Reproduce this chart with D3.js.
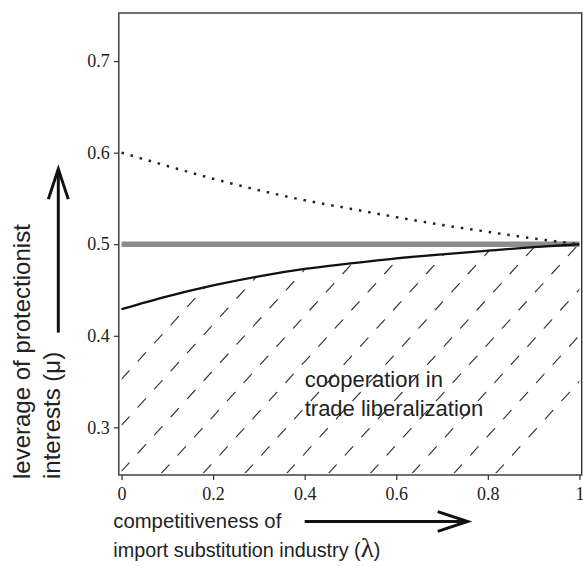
<!DOCTYPE html>
<html>
<head>
<meta charset="utf-8">
<script src="https://cdn.jsdelivr.net/npm/d3@7"></script>
<style>
    body { margin: 0; background: #fff; }
</style>
</head>
<body>
<div id="main-chart"></div>
<script>
// Values
let lambda = [0, 0.1, 0.2, 0.3, 0.4, 0.5, 0.6, 0.7, 0.8, 0.9, 1.0];
let muLower = [0.429, 0.443, 0.455, 0.465, 0.473, 0.479, 0.4845, 0.489, 0.493, 0.4968, 0.5];
let muUpper = [0.600, 0.5855, 0.5715, 0.559, 0.548, 0.5388, 0.5296, 0.5211, 0.5135, 0.5063, 0.5];
let muThreshold = 0.5;
let hatchFloor = 0.25;

let xTicks = [0, 0.2, 0.4, 0.6, 0.8, 1];
let xTickLabels = ['0', '0.2', '0.4', '0.6', '0.8', '1'];
let yTicks = [0.3, 0.4, 0.5, 0.6, 0.7];
let yTickLabels = ['0.3', '0.4', '0.5', '0.6', '0.7'];

let regionLabel = ['cooperation in', 'trade liberalization'];
let xTitle = ['competitiveness of', 'import substitution industry ('];
let yTitle = ['leverage of protectionist', 'interests (\u03bc)'];

// Set dimensions and margins
let margin = {
        top: 13,
        right: 1.3,
        bottom: 91,
        left: 118.8
    },
    width = 583 - margin.left - margin.right,
    height = 566 - margin.top - margin.bottom;

let x = d3.scaleLinear().domain([-0.006, 1.005]).range([0, width]);
let y = d3.scaleLinear().domain([0.248, 0.7525]).range([height, 0]);

let data = lambda.map(function (l, i) {
    return { lambda: l, lower: muLower[i], upper: muUpper[i] };
});

let svg = d3.select('#main-chart')
    .append('svg')
    .attr('width', width + margin.left + margin.right)
    .attr('height', height + margin.top + margin.bottom)
    .append('g')
    .attr('transform', 'translate(' + margin.left + ',' + margin.top + ')');

// Hatched region below the lower curve
let area = d3.area()
    .curve(d3.curveMonotoneX)
    .x(function (d) { return x(d.lambda); })
    .y0(y(hatchFloor))
    .y1(function (d) { return y(d.lower); });

svg.append('clipPath')
    .attr('id', 'hatch-clip')
    .append('path')
    .datum(data)
    .attr('d', area);

let hatchSlope = 1.1, hatchGap = 41.8, hatchFirst = 36.1 - margin.left;
let xLeft = x(0), yFloor = y(hatchFloor);
let hatch = d3.range(0, 12).map(function (k) {
    let bx = hatchFirst + k * hatchGap;
    let sx = bx, sy = yFloor;
    if (bx < xLeft) {
        sx = xLeft;
        sy = yFloor - (xLeft - bx) * hatchSlope;
    }
    return { x1: sx, y1: sy, x2: sx + sy / hatchSlope, y2: 0 };
});

svg.append('g')
    .attr('clip-path', 'url(#hatch-clip)')
    .selectAll('line')
    .data(hatch)
    .enter().append('line')
    .attr('x1', function (d) { return d.x1; })
    .attr('y1', function (d) { return d.y1; })
    .attr('x2', function (d) { return d.x2; })
    .attr('y2', function (d) { return d.y2; })
    .attr('stroke', '#333')
    .attr('stroke-width', 1.15)
    .attr('stroke-linecap', 'round')
    .attr('stroke-dasharray', '11.3 13.2');

// Threshold line at mu = 0.5
svg.append('line')
    .attr('x1', x(0))
    .attr('x2', x(1))
    .attr('y1', y(muThreshold))
    .attr('y2', y(muThreshold))
    .attr('stroke', '#8c8c8c')
    .attr('stroke-width', 5.5);

let line_lower = d3.line()
    .curve(d3.curveMonotoneX)
    .x(function (d) { return x(d.lambda); })
    .y(function (d) { return y(d.lower); });

let line_upper = d3.line()
    .curve(d3.curveMonotoneX)
    .x(function (d) { return x(d.lambda); })
    .y(function (d) { return y(d.upper); });

svg.append('path')
    .datum(data)
    .attr('fill', 'none')
    .attr('stroke', '#111')
    .attr('stroke-width', 2.3)
    .attr('d', line_lower);

svg.append('path')
    .datum(data)
    .attr('fill', 'none')
    .attr('stroke', '#222')
    .attr('stroke-width', 2.5)
    .attr('stroke-dasharray', '2.5 6.9')
    .attr('d', line_upper);

// Frame
svg.append('rect')
    .attr('width', width)
    .attr('height', height)
    .attr('fill', 'none')
    .attr('stroke', '#333')
    .attr('stroke-width', 1.4);

// Axes
let serif = '"Liberation Serif", "DejaVu Serif", serif';
let sans = '"Liberation Sans", Arial, sans-serif';

let xAxis = svg.append('g')
    .attr('transform', 'translate(0,' + height + ')')
    .call(d3.axisBottom(x).tickValues(xTicks)
        .tickFormat(function (d, i) { return xTickLabels[i]; })
        .tickSizeInner(5).tickSizeOuter(0).tickPadding(7.5));

let yAxis = svg.append('g')
    .call(d3.axisLeft(y).tickValues(yTicks)
        .tickFormat(function (d, i) { return yTickLabels[i]; })
        .tickSizeInner(5).tickSizeOuter(0).tickPadding(4));

[xAxis, yAxis].forEach(function (a) {
    a.attr('font-family', serif).attr('font-size', 18);
    a.select('.domain').remove();
    a.selectAll('.tick line').attr('stroke', '#333').attr('stroke-width', 1.2);
    a.selectAll('.tick text').attr('fill', '#222');
});

// Region label
let label = svg.append('text')
    .attr('x', x(0.4))
    .attr('y', y(0.3445))
    .attr('fill', '#222')
    .attr('font-family', sans)
    .attr('font-size', 22);
label.append('tspan').text(regionLabel[0]);
label.append('tspan').attr('x', x(0.4)).attr('dy', 29).text(regionLabel[1]);

// X title with arrow
svg.append('text')
    .attr('x', -5.5)
    .attr('y', height + 53)
    .attr('fill', '#222')
    .attr('font-family', sans)
    .attr('font-size', 20.3)
    .text(xTitle[0]);

let xt2 = svg.append('text')
    .attr('x', -5.5)
    .attr('y', height + 82)
    .attr('fill', '#222')
    .attr('font-family', sans)
    .attr('font-size', 19.8);
xt2.append('tspan').text(xTitle[1]);
xt2.append('tspan')
    .attr('font-family', serif)
    .attr('font-size', 27)
    .text('\u03bb');
xt2.append('tspan').text(')');

// Y title (rotated)
let yt = svg.append('g')
    .attr('transform', 'translate(' + (-margin.left) + ',' + (479 - margin.top) + ') rotate(-90)');
yt.append('text')
    .attr('x', 0)
    .attr('y', 30)
    .attr('fill', '#222')
    .attr('font-family', sans)
    .attr('font-size', 24)
    .text(yTitle[0]);
yt.append('text')
    .attr('x', 0)
    .attr('y', 60)
    .attr('fill', '#222')
    .attr('font-family', sans)
    .attr('font-size', 24)
    .text(yTitle[1]);

// Arrows
function arrow(x1, y1, x2, y2) {
    let ang = Math.atan2(y2 - y1, x2 - x1);
    let len = 31.6, spread = 0.32;
    let g = svg.append('g')
        .attr('stroke', '#111')
        .attr('stroke-width', 3)
        .attr('fill', 'none');
    g.append('line').attr('x1', x1).attr('y1', y1).attr('x2', x2).attr('y2', y2);
    g.append('path')
        .attr('stroke-linejoin', 'miter')
        .attr('d', 'M' + (x2 - len * Math.cos(ang - spread)) + ',' + (y2 - len * Math.sin(ang - spread)) +
            'L' + x2 + ',' + y2 +
            'L' + (x2 - len * Math.cos(ang + spread)) + ',' + (y2 - len * Math.sin(ang + spread)));
}

arrow(x(0.4), height + 46.5, x(0.756), height + 46.5);
arrow(58.3 - margin.left, y(0.4035), 58.3 - margin.left, y(0.582));
</script>
</body>
</html>
